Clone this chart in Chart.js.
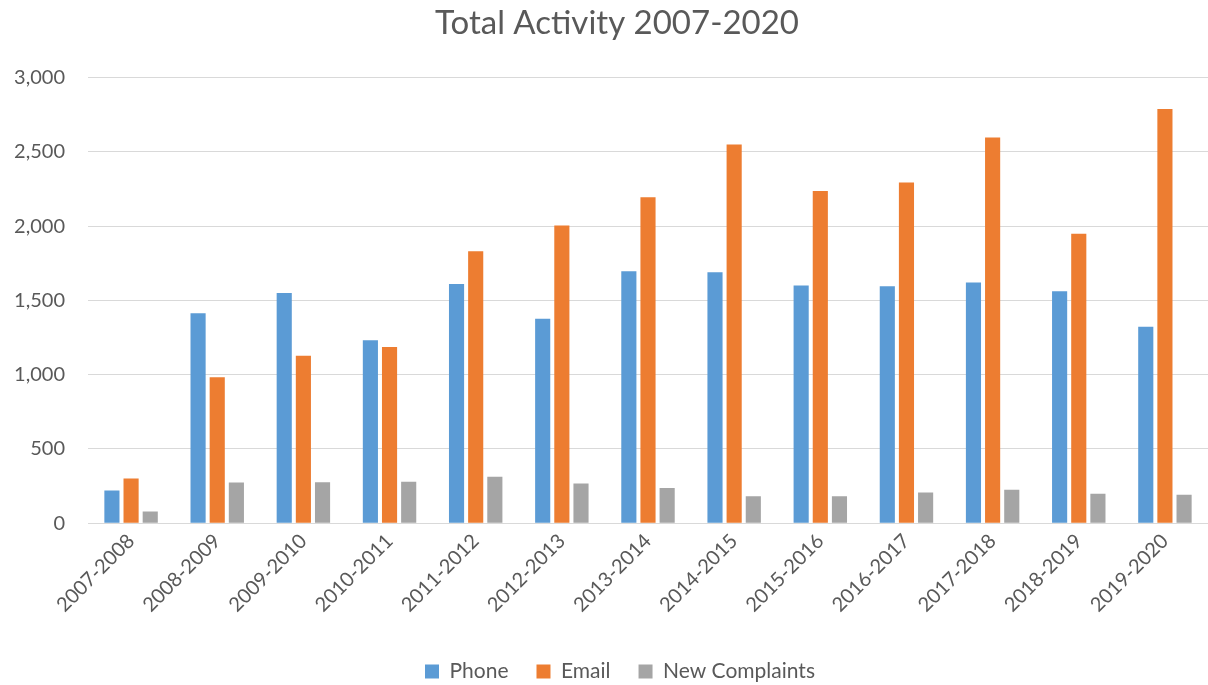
<!DOCTYPE html>
<html>
<head>
<meta charset="utf-8">
<script src="https://cdn.jsdelivr.net/npm/chart.js@4/dist/chart.umd.min.js"></script>
<style>
  html, body { margin: 0; padding: 0; background: #fff; }
  #wrap { width: 1208px; height: 685px; position: relative; }
</style>
</head>
<body>
<div id="wrap"><canvas id="c" width="1208" height="685"></canvas></div>
<script>
const categories = ["2007-2008","2008-2009","2009-2010","2010-2011","2011-2012","2012-2013","2013-2014","2014-2015","2015-2016","2016-2017","2017-2018","2018-2019","2019-2020"];
const phone = [220, 1413, 1550, 1231, 1611, 1377, 1696, 1690, 1600, 1595, 1620, 1562, 1323];
const email = [301, 982, 1128, 1186, 1831, 2004, 2195, 2550, 2236, 2294, 2597, 1948, 2788];
const newComplaints = [79, 274, 276, 279, 312, 267, 236, 182, 182, 207, 225, 198, 191];
const yTicks = [0, 500, 1000, 1500, 2000, 2500, 3000];

const FONT = "Lato, 'Open Sans', sans-serif";
const TEXT = "#595959";

const shiftBlocks = {
  id: 'shiftBlocks',
  afterLayout(chart) {
    if (chart.titleBlock) { chart.titleBlock.left += 26; }
    if (chart.legend) { chart.legend.left += 32; }
  }
};

new Chart(document.getElementById('c'), {
  type: 'bar',
  plugins: [shiftBlocks],
  data: {
    labels: categories,
    datasets: [
      { label: 'Phone', data: phone, backgroundColor: '#5B9BD5' },
      { label: 'Email', data: email, backgroundColor: '#ED7D31' },
      { label: 'New Complaints', data: newComplaints, backgroundColor: '#A5A5A5' }
    ]
  },
  options: {
    responsive: false,
    animation: false,
    devicePixelRatio: 1,
    categoryPercentage: 0.667,
    barPercentage: 0.79,
    layout: { padding: { left: 0, right: 0, top: 0, bottom: -7 } },
    plugins: {
      title: {
        display: true,
        text: 'Total Activity 2007-2020',
        color: TEXT,
        font: { family: FONT, size: 33, weight: 'normal' },
        padding: { top: 4, bottom: 34 }
      },
      legend: {
        position: 'bottom',
        labels: {
          color: TEXT,
          font: { family: FONT, size: 21 },
          boxWidth: 14,
          boxHeight: 14,
          padding: 28
        }
      },
      tooltip: { enabled: false }
    },
    scales: {
      x: {
        grid: { display: false, drawTicks: false },
        border: { display: true, color: '#d9d9d9', width: 1 },
        ticks: {
          color: TEXT,
          font: { family: FONT, size: 20 },
          maxRotation: 45,
          minRotation: 45,
          padding: 6,
          autoSkip: false
        },
        afterFit: (scale) => {
          scale.paddingLeft = 0;
          scale.paddingRight = 0;
          scale.height += 10;
        }
      },
      y: {
        min: 0,
        max: 3000,
        afterBuildTicks: (axis) => { axis.ticks = yTicks.map(v => ({ value: v })); },
        afterFit: (scale) => { scale.width = 88; },
        grid: { color: '#d9d9d9', lineWidth: 1, drawTicks: false },
        border: { display: false },
        ticks: {
          color: TEXT,
          font: { family: FONT, size: 20 },
          padding: 23,
          callback: (v) => v.toLocaleString('en-US')
        }
      }
    }
  }
});
</script>
</body>
</html>
